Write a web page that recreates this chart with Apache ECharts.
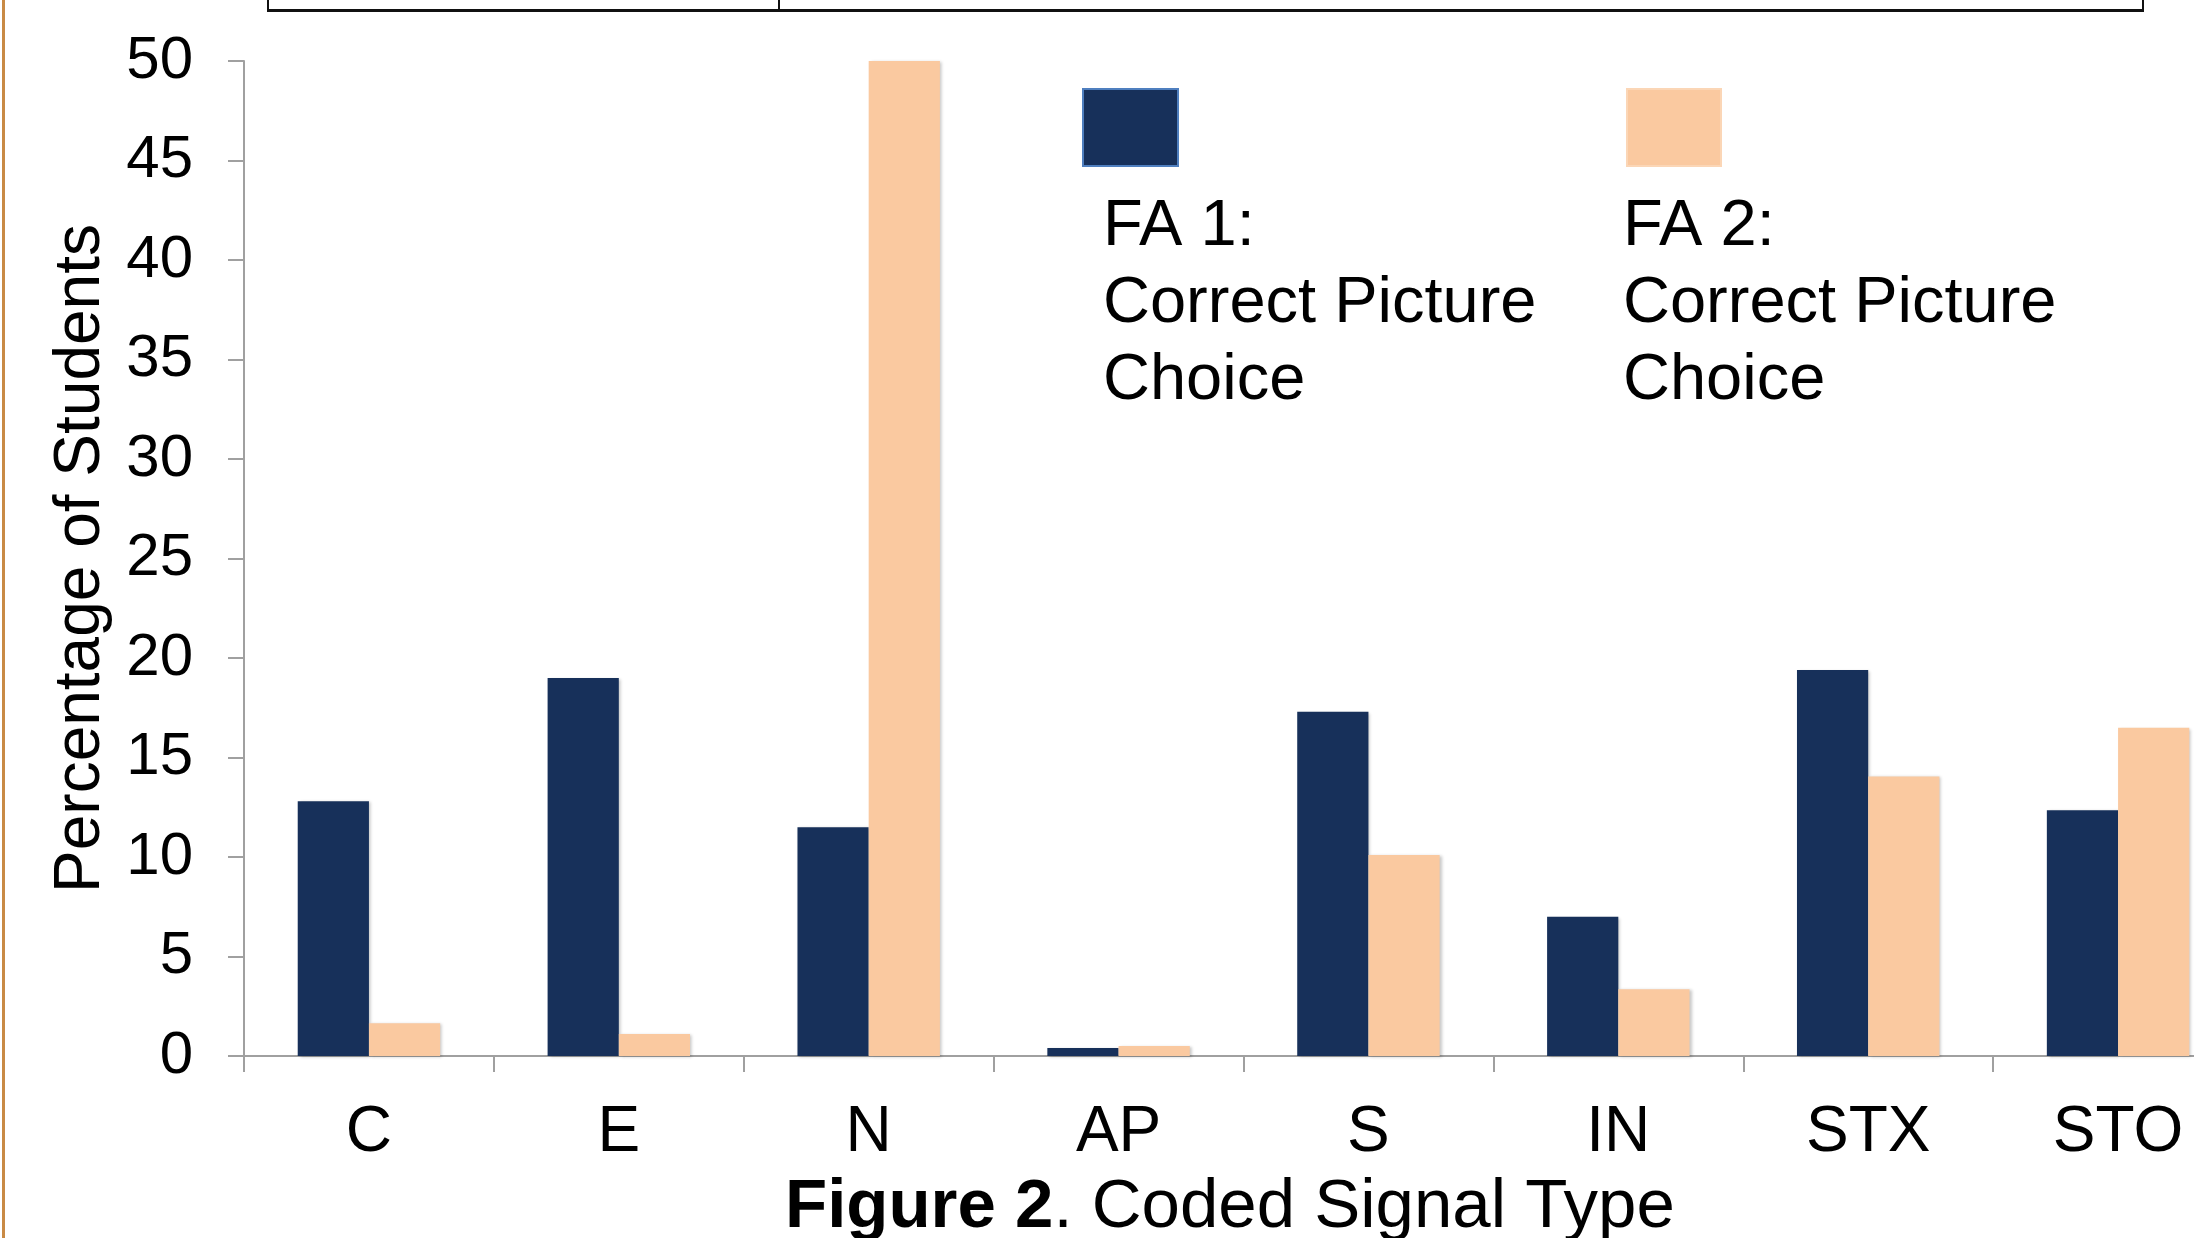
<!DOCTYPE html>
<html>
<head>
<meta charset="utf-8">
<style>
html,body{margin:0;padding:0;background:#fff;}
#c{width:2194px;height:1238px;}
</style>
<script src="https://cdn.jsdelivr.net/npm/echarts@6/dist/echarts.min.js"></script>
</head>
<body>
<div id="c"></div>
<script>
var categories = ['C', 'E', 'N', 'AP', 'S', 'IN', 'STX', 'STO'];
var fa1Values = [12.8, 19.0, 11.5, 0.4, 17.3, 7.0, 19.4, 12.35];
var fa2Values = [1.65, 1.1, 50, 0.5, 10.1, 3.35, 14.05, 16.5];
var seriesNames = ['FA 1:\nCorrect Picture\nChoice', 'FA 2:\nCorrect Picture\nChoice'];
var yTicks = { min: 0, max: 50, interval: 5 };
var yAxisTitle = 'Percentage of Students';
var captionBold = 'Figure 2';
var captionRest = '. Coded Signal Type';

var FONT = '"Liberation Sans", Arial, Helvetica, sans-serif';
var NAVY = '#17305a';
var PEACH = '#fac9a0';

var chart = echarts.init(document.getElementById('c'));
var barShadow = { shadowColor: 'rgba(0,0,0,0.22)', shadowBlur: 3, shadowOffsetX: 2, shadowOffsetY: 1 };

chart.setOption({
  backgroundColor: '#ffffff',
  animation: false,
  grid: { left: 244, top: 61, width: 1999, bottom: 182, containLabel: false, outerBoundsMode: 'none' },
  xAxis: {
    type: 'category',
    data: categories,
    axisLine: { lineStyle: { color: '#a0a0a0', width: 2 } },
    axisTick: { show: true, length: 16, lineStyle: { color: '#a0a0a0', width: 2 } },
    axisLabel: { color: '#000', fontSize: 64, fontFamily: FONT, margin: 45, interval: 0 }
  },
  yAxis: {
    type: 'value',
    min: yTicks.min, max: yTicks.max, interval: yTicks.interval,
    name: yAxisTitle,
    nameLocation: 'middle',
    nameRotate: 90,
    nameGap: 131,
    nameTextStyle: { color: '#000', fontSize: 64, fontFamily: FONT },
    splitLine: { show: false },
    axisLine: { show: true, lineStyle: { color: '#a0a0a0', width: 2 } },
    axisTick: { show: true, length: 16, lineStyle: { color: '#a0a0a0', width: 2 } },
    axisLabel: { color: '#000', fontSize: 60, fontFamily: FONT, margin: 51 }
  },
  series: [
    {
      type: 'bar', name: seriesNames[0], data: fa1Values,
      barGap: '0%', barCategoryGap: '43%',
      itemStyle: Object.assign({ color: NAVY }, barShadow)
    },
    {
      type: 'bar', name: seriesNames[1], data: fa2Values,
      barGap: '0%', barCategoryGap: '43%',
      itemStyle: Object.assign({ color: PEACH }, barShadow)
    }
  ],
  graphic: [
    // left orange page border
    { type: 'rect', left: 2, top: 0, shape: { width: 3, height: 1238 }, style: { fill: '#c98a45' } },
    // cropped table box at top
    { type: 'rect', left: 267, top: 9, shape: { width: 1877, height: 3 }, style: { fill: '#111' } },
    { type: 'rect', left: 267, top: 0, shape: { width: 2, height: 11 }, style: { fill: '#111' } },
    { type: 'rect', left: 778, top: 0, shape: { width: 2, height: 11 }, style: { fill: '#111' } },
    { type: 'rect', left: 2142, top: 0, shape: { width: 2, height: 11 }, style: { fill: '#111' } },
    // legend
    { type: 'rect', left: 1082, top: 88, shape: { width: 95, height: 77 },
      style: { fill: NAVY, stroke: '#4f7fbf', lineWidth: 2 } },
    { type: 'text', left: 1103, top: 189,
      style: { text: seriesNames[0], font: '65px ' + FONT, fill: '#000', lineHeight: 77 } },
    { type: 'rect', left: 1626, top: 88, shape: { width: 94, height: 77 },
      style: { fill: PEACH, stroke: '#fbd6b6', lineWidth: 2 } },
    { type: 'text', left: 1623, top: 189,
      style: { text: seriesNames[1], font: '65px ' + FONT, fill: '#000', lineHeight: 77 } },
    // caption
    { type: 'text', left: 785, top: 1173,
      style: {
        text: '{b|' + captionBold + '}{n|' + captionRest + '}',
        rich: {
          b: { fontSize: 69, fontWeight: 'bold', fontFamily: FONT, fill: '#000', lineHeight: 76 },
          n: { fontSize: 69, fontFamily: FONT, fill: '#000', lineHeight: 76 }
        }
      }
    }
  ]
});
</script>
</body>
</html>
